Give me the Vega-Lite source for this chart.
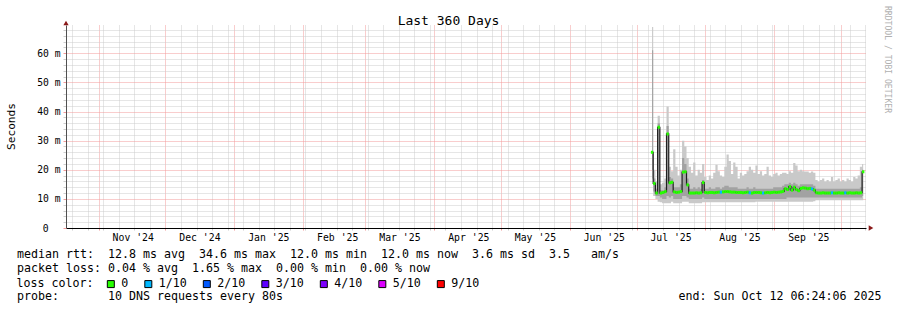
{
  "$schema": "https://vega.github.io/schema/vega-lite/v6.json",
  "width": 800,
  "height": 203,
  "autosize": "none",
  "padding": {"left": 66, "top": 25, "right": 31, "bottom": 82},
  "background": "white",
  "config": {
    "font": "DejaVu Sans Mono",
    "view": {"stroke": null},
    "axis": {"titleFontWeight": "normal", "titleColor": "#000", "labelColor": "#000", "labelOverlap": false, "labelFlush": false}
  },
  "data": {"values": [
    {"d":"2025-07-08","lo":17,"l2":20,"med":26.0,"h2":61,"hi":69,"loss":"0"},
    {"d":"2025-07-09","lo":11,"l2":12.5,"med":15.3,"h2":17,"hi":20,"loss":"0"},
    {"d":"2025-07-10","lo":10,"l2":11,"med":12.0,"h2":13.5,"hi":16,"loss":"0"},
    {"d":"2025-07-11","lo":9,"l2":11,"med":34.6,"h2":36,"hi":38.5,"loss":"0"},
    {"d":"2025-07-12","lo":8.8,"l2":10.5,"med":12.0,"h2":13,"hi":15,"loss":"0"},
    {"d":"2025-07-13","lo":8.5,"l2":10,"med":12.2,"h2":13,"hi":15.5,"loss":"0"},
    {"d":"2025-07-14","lo":8.5,"l2":10,"med":12.5,"h2":14,"hi":17,"loss":"0"},
    {"d":"2025-07-15","lo":8.5,"l2":11,"med":32.3,"h2":35,"hi":41.7,"loss":"0"},
    {"d":"2025-07-16","lo":8.5,"l2":10.5,"med":15.5,"h2":17.5,"hi":21,"loss":"0"},
    {"d":"2025-07-17","lo":9,"l2":11,"med":15.7,"h2":17,"hi":19.5,"loss":"0"},
    {"d":"2025-07-18","lo":8.5,"l2":10,"med":12.4,"h2":14,"hi":27,"loss":"0"},
    {"d":"2025-07-19","lo":8.5,"l2":10,"med":12.2,"h2":14,"hi":21,"loss":"0"},
    {"d":"2025-07-20","lo":8.5,"l2":10,"med":12.3,"h2":14,"hi":18,"loss":"0"},
    {"d":"2025-07-21","lo":8.5,"l2":10,"med":12.5,"h2":15,"hi":20,"loss":"0"},
    {"d":"2025-07-22","lo":9,"l2":11,"med":19.2,"h2":24,"hi":30,"loss":"0"},
    {"d":"2025-07-23","lo":9,"l2":11,"med":19.3,"h2":22,"hi":28,"loss":"0"},
    {"d":"2025-07-24","lo":9,"l2":10.5,"med":14.8,"h2":17,"hi":24,"loss":"0"},
    {"d":"2025-07-25","lo":8.5,"l2":10,"med":12.0,"h2":13.5,"hi":21,"loss":"0"},
    {"d":"2025-07-26","lo":8.5,"l2":10,"med":12.0,"h2":13.5,"hi":19,"loss":"0"},
    {"d":"2025-07-27","lo":8.5,"l2":10,"med":12.0,"h2":14,"hi":22.5,"loss":"0"},
    {"d":"2025-07-28","lo":8.5,"l2":10,"med":12.1,"h2":13.5,"hi":18,"loss":"0"},
    {"d":"2025-07-29","lo":8.5,"l2":10,"med":12.0,"h2":14,"hi":20,"loss":"0"},
    {"d":"2025-07-30","lo":8.5,"l2":10,"med":12.1,"h2":13.5,"hi":19,"loss":"0"},
    {"d":"2025-07-31","lo":8.8,"l2":10.5,"med":15.6,"h2":16.5,"hi":22,"loss":"0"},
    {"d":"2025-08-01","lo":8.8,"l2":10,"med":12.2,"h2":13.5,"hi":17.5,"loss":"0"},
    {"d":"2025-08-02","lo":8.8,"l2":10,"med":12.1,"h2":13.5,"hi":16.5,"loss":"0"},
    {"d":"2025-08-03","lo":8.8,"l2":10,"med":12.2,"h2":14,"hi":18,"loss":"0"},
    {"d":"2025-08-04","lo":8.8,"l2":10,"med":12.2,"h2":13.5,"hi":17,"loss":"0"},
    {"d":"2025-08-05","lo":8.8,"l2":10,"med":12.1,"h2":13.5,"hi":19,"loss":"0"},
    {"d":"2025-08-06","lo":8.8,"l2":10,"med":12.2,"h2":14,"hi":21.7,"loss":"0"},
    {"d":"2025-08-07","lo":8.8,"l2":10,"med":12.3,"h2":14,"hi":19.5,"loss":"0"},
    {"d":"2025-08-08","lo":8.8,"l2":10,"med":12.3,"h2":13.5,"hi":18,"loss":"1/10"},
    {"d":"2025-08-09","lo":8.8,"l2":10,"med":12.4,"h2":14,"hi":17.5,"loss":"0"},
    {"d":"2025-08-10","lo":8.8,"l2":10,"med":12.5,"h2":14.5,"hi":21,"loss":"0"},
    {"d":"2025-08-11","lo":8.8,"l2":10,"med":12.5,"h2":14.5,"hi":25.2,"loss":"0"},
    {"d":"2025-08-12","lo":8.8,"l2":10,"med":12.4,"h2":14,"hi":23,"loss":"0"},
    {"d":"2025-08-13","lo":8.8,"l2":10,"med":12.3,"h2":14,"hi":18.5,"loss":"0"},
    {"d":"2025-08-14","lo":8.8,"l2":10,"med":12.3,"h2":14,"hi":22.5,"loss":"0"},
    {"d":"2025-08-15","lo":8.8,"l2":10,"med":12.2,"h2":14,"hi":21,"loss":"0"},
    {"d":"2025-08-16","lo":8.8,"l2":10,"med":12.2,"h2":13.5,"hi":17,"loss":"0"},
    {"d":"2025-08-17","lo":8.8,"l2":10,"med":12.2,"h2":13.5,"hi":19,"loss":"0"},
    {"d":"2025-08-18","lo":8.8,"l2":10,"med":12.1,"h2":13.5,"hi":18,"loss":"0"},
    {"d":"2025-08-19","lo":8.8,"l2":10,"med":12.2,"h2":13.5,"hi":18.5,"loss":"0"},
    {"d":"2025-08-20","lo":8.8,"l2":10,"med":12.3,"h2":14,"hi":19.5,"loss":"0"},
    {"d":"2025-08-21","lo":8.8,"l2":10,"med":12.1,"h2":13.5,"hi":21,"loss":"1/10"},
    {"d":"2025-08-22","lo":8.8,"l2":10,"med":12.0,"h2":13.5,"hi":20,"loss":"0"},
    {"d":"2025-08-23","lo":8.8,"l2":10,"med":12.2,"h2":14,"hi":19,"loss":"0"},
    {"d":"2025-08-24","lo":9,"l2":10,"med":12.2,"h2":13.5,"hi":21.5,"loss":"0"},
    {"d":"2025-08-25","lo":9,"l2":10,"med":12.2,"h2":13.5,"hi":18.5,"loss":"0"},
    {"d":"2025-08-26","lo":9,"l2":10,"med":12.1,"h2":13.5,"hi":19.5,"loss":"0"},
    {"d":"2025-08-27","lo":9,"l2":10,"med":12.0,"h2":13.5,"hi":18,"loss":"1/10"},
    {"d":"2025-08-28","lo":9,"l2":10,"med":12.1,"h2":13.5,"hi":18.5,"loss":"0"},
    {"d":"2025-08-29","lo":9,"l2":10,"med":12.2,"h2":13.5,"hi":21,"loss":"0"},
    {"d":"2025-08-30","lo":9,"l2":10,"med":12.1,"h2":13.5,"hi":18,"loss":"0"},
    {"d":"2025-08-31","lo":9,"l2":10,"med":12.2,"h2":13.5,"hi":17.5,"loss":"0"},
    {"d":"2025-09-01","lo":9,"l2":10,"med":12.3,"h2":14,"hi":18.5,"loss":"0"},
    {"d":"2025-09-02","lo":9,"l2":10,"med":12.2,"h2":14,"hi":19,"loss":"0"},
    {"d":"2025-09-03","lo":9,"l2":10,"med":12.3,"h2":14,"hi":18,"loss":"0"},
    {"d":"2025-09-04","lo":9,"l2":10,"med":12.4,"h2":14,"hi":18.5,"loss":"0"},
    {"d":"2025-09-05","lo":9,"l2":10,"med":12.6,"h2":14.5,"hi":19,"loss":"0"},
    {"d":"2025-09-06","lo":9,"l2":10,"med":13.5,"h2":15,"hi":19,"loss":"0"},
    {"d":"2025-09-07","lo":9,"l2":10.5,"med":13.2,"h2":15,"hi":18.5,"loss":"0"},
    {"d":"2025-09-08","lo":9,"l2":10.5,"med":14.2,"h2":15.5,"hi":19.5,"loss":"0"},
    {"d":"2025-09-09","lo":9,"l2":10.5,"med":13.0,"h2":15,"hi":19,"loss":"0"},
    {"d":"2025-09-10","lo":9,"l2":10.5,"med":14.0,"h2":15.5,"hi":22.3,"loss":"0"},
    {"d":"2025-09-11","lo":9,"l2":10.5,"med":13.2,"h2":15,"hi":21.5,"loss":"0"},
    {"d":"2025-09-12","lo":9,"l2":10.5,"med":12.8,"h2":14.5,"hi":19.5,"loss":"0"},
    {"d":"2025-09-13","lo":9,"l2":10.5,"med":13.6,"h2":15,"hi":20,"loss":"0"},
    {"d":"2025-09-14","lo":9,"l2":10.5,"med":13.8,"h2":15,"hi":19.5,"loss":"0"},
    {"d":"2025-09-15","lo":9,"l2":10.5,"med":13.7,"h2":15,"hi":19.4,"loss":"0"},
    {"d":"2025-09-16","lo":9,"l2":10.5,"med":13.5,"h2":15,"hi":19.4,"loss":"0"},
    {"d":"2025-09-17","lo":9,"l2":10.5,"med":13.6,"h2":15,"hi":19,"loss":"0"},
    {"d":"2025-09-18","lo":9,"l2":10.5,"med":13.4,"h2":15,"hi":19.4,"loss":"1/10"},
    {"d":"2025-09-19","lo":9.2,"l2":10.5,"med":13.0,"h2":14.5,"hi":19,"loss":"0"},
    {"d":"2025-09-20","lo":9.5,"l2":10.5,"med":12.1,"h2":13.5,"hi":16.5,"loss":"0"},
    {"d":"2025-09-21","lo":9.5,"l2":10.5,"med":12.0,"h2":13.5,"hi":16,"loss":"0"},
    {"d":"2025-09-22","lo":9.5,"l2":10.5,"med":12.0,"h2":13.5,"hi":16.5,"loss":"0"},
    {"d":"2025-09-23","lo":9.5,"l2":10.5,"med":12.1,"h2":13.5,"hi":17,"loss":"0"},
    {"d":"2025-09-24","lo":9.5,"l2":10.5,"med":12.0,"h2":13.5,"hi":16,"loss":"0"},
    {"d":"2025-09-25","lo":9.5,"l2":10.5,"med":12.0,"h2":13.5,"hi":16.5,"loss":"0"},
    {"d":"2025-09-26","lo":9.5,"l2":10.5,"med":12.0,"h2":13.5,"hi":16,"loss":"0"},
    {"d":"2025-09-27","lo":9.5,"l2":10.5,"med":12.1,"h2":13.5,"hi":17.5,"loss":"1/10"},
    {"d":"2025-09-28","lo":9.5,"l2":10.5,"med":12.0,"h2":13.5,"hi":16,"loss":"0"},
    {"d":"2025-09-29","lo":9.5,"l2":10.5,"med":12.0,"h2":13.5,"hi":16.5,"loss":"0"},
    {"d":"2025-09-30","lo":9.5,"l2":10.5,"med":12.1,"h2":13.5,"hi":17,"loss":"0"},
    {"d":"2025-10-01","lo":9.5,"l2":10.5,"med":12.0,"h2":13.5,"hi":16,"loss":"0"},
    {"d":"2025-10-02","lo":9.5,"l2":10.5,"med":12.0,"h2":13.5,"hi":16.5,"loss":"0"},
    {"d":"2025-10-03","lo":9.5,"l2":10.5,"med":12.1,"h2":13.5,"hi":16,"loss":"1/10"},
    {"d":"2025-10-04","lo":9.5,"l2":10.5,"med":12.0,"h2":13.5,"hi":17,"loss":"0"},
    {"d":"2025-10-05","lo":9.5,"l2":10.5,"med":12.1,"h2":13.5,"hi":16.5,"loss":"0"},
    {"d":"2025-10-06","lo":9.5,"l2":10.5,"med":12.0,"h2":13.5,"hi":16,"loss":"0"},
    {"d":"2025-10-07","lo":9.5,"l2":10.5,"med":12.0,"h2":13.5,"hi":17.5,"loss":"0"},
    {"d":"2025-10-08","lo":9.5,"l2":10.5,"med":12.1,"h2":13.5,"hi":17,"loss":"0"},
    {"d":"2025-10-09","lo":9.5,"l2":10.5,"med":12.0,"h2":13.5,"hi":18,"loss":"0"},
    {"d":"2025-10-10","lo":9.5,"l2":10.5,"med":12.1,"h2":14,"hi":21,"loss":"0"},
    {"d":"2025-10-11","lo":9.5,"l2":11,"med":19.3,"h2":20,"hi":22,"loss":"0"}
  ]},
  "layer": [
    {
      "encoding": {
        "x": {
          "field": "d", "type": "temporal",
          "scale": {"type": "utc", "domain": [
            {"year": 2024, "month": 10, "date": 17, "hours": 6, "minutes": 24, "seconds": 6, "utc": true},
            {"year": 2025, "month": 10, "date": 12, "hours": 6, "minutes": 24, "seconds": 6, "utc": true}
          ]},
          "axis": {
            "orient": "bottom",
            "tickCount": 500,
            "values": [
              {"year":2024,"month":10,"date":20,"utc":true},{"year":2024,"month":10,"date":27,"utc":true},
              {"year":2024,"month":11,"date":3,"utc":true},{"year":2024,"month":11,"date":10,"utc":true},{"year":2024,"month":11,"date":17,"utc":true},{"year":2024,"month":11,"date":24,"utc":true},
              {"year":2024,"month":12,"date":8,"utc":true},{"year":2024,"month":12,"date":15,"utc":true},{"year":2024,"month":12,"date":22,"utc":true},{"year":2024,"month":12,"date":29,"utc":true},
              {"year":2025,"month":1,"date":5,"utc":true},{"year":2025,"month":1,"date":12,"utc":true},{"year":2025,"month":1,"date":19,"utc":true},{"year":2025,"month":1,"date":26,"utc":true},
              {"year":2025,"month":2,"date":2,"utc":true},{"year":2025,"month":2,"date":9,"utc":true},{"year":2025,"month":2,"date":16,"utc":true},{"year":2025,"month":2,"date":23,"utc":true},
              {"year":2025,"month":3,"date":2,"utc":true},{"year":2025,"month":3,"date":9,"utc":true},{"year":2025,"month":3,"date":16,"utc":true},{"year":2025,"month":3,"date":23,"utc":true},{"year":2025,"month":3,"date":30,"utc":true},
              {"year":2025,"month":4,"date":6,"utc":true},{"year":2025,"month":4,"date":13,"utc":true},{"year":2025,"month":4,"date":20,"utc":true},{"year":2025,"month":4,"date":27,"utc":true},
              {"year":2025,"month":5,"date":4,"utc":true},{"year":2025,"month":5,"date":11,"utc":true},{"year":2025,"month":5,"date":18,"utc":true},{"year":2025,"month":5,"date":25,"utc":true},
              {"year":2025,"month":6,"date":8,"utc":true},{"year":2025,"month":6,"date":15,"utc":true},{"year":2025,"month":6,"date":22,"utc":true},{"year":2025,"month":6,"date":29,"utc":true},
              {"year":2025,"month":7,"date":6,"utc":true},{"year":2025,"month":7,"date":13,"utc":true},{"year":2025,"month":7,"date":20,"utc":true},{"year":2025,"month":7,"date":27,"utc":true},
              {"year":2025,"month":8,"date":3,"utc":true},{"year":2025,"month":8,"date":10,"utc":true},{"year":2025,"month":8,"date":17,"utc":true},{"year":2025,"month":8,"date":24,"utc":true},{"year":2025,"month":8,"date":31,"utc":true},
              {"year":2025,"month":9,"date":7,"utc":true},{"year":2025,"month":9,"date":14,"utc":true},{"year":2025,"month":9,"date":21,"utc":true},{"year":2025,"month":9,"date":28,"utc":true},
              {"year":2025,"month":10,"date":5,"utc":true},{"year":2025,"month":10,"date":12,"utc":true},
              {"year":2024,"month":11,"date":1,"utc":true},{"year":2024,"month":12,"date":1,"utc":true},
              {"year":2025,"month":1,"date":1,"utc":true},{"year":2025,"month":2,"date":1,"utc":true},{"year":2025,"month":3,"date":1,"utc":true},
              {"year":2025,"month":4,"date":1,"utc":true},{"year":2025,"month":5,"date":1,"utc":true},{"year":2025,"month":6,"date":1,"utc":true},
              {"year":2025,"month":7,"date":1,"utc":true},{"year":2025,"month":8,"date":1,"utc":true},{"year":2025,"month":9,"date":1,"utc":true},{"year":2025,"month":10,"date":1,"utc":true}
            ],
            "grid": true,
            "gridColor": {"condition": {"test": "utcdate(datum.value) == 1", "value": "#f29a9a"}, "value": "#cdcdcd"},
            "gridDash": [1, 1],
            "gridWidth": 1,
            "ticks": true,
            "tickSize": 2,
            "tickColor": {"condition": {"test": "utcdate(datum.value) == 1", "value": "#f29a9a"}, "value": "#cdcdcd"},
            "domainColor": "#000",
            "domainWidth": 1,
            "labelExpr": "utcdate(datum.value) == 1 && utcmonth(datum.value) != 9 ? utcFormat(datum.value, \"%b '%y\") : ''",
            "labelOffset": 34,
            "labelPadding": 2,
            "labelFontSize": 9.8,
            "labelAlign": "center",
            "title": [
              "median\u00a0rtt:\u00a0\u00a012.8\u00a0ms\u00a0avg\u00a0\u00a034.6\u00a0ms\u00a0max\u00a0\u00a012.0\u00a0ms\u00a0min\u00a0\u00a012.0\u00a0ms\u00a0now\u00a0\u00a03.6\u00a0ms\u00a0sd\u00a0\u00a03.5\u00a0\u00a0\u00a0am/s",
              "packet\u00a0loss:\u00a00.04\u00a0%\u00a0avg\u00a0\u00a01.65\u00a0%\u00a0max\u00a0\u00a00.00\u00a0%\u00a0min\u00a0\u00a00.00\u00a0%\u00a0now"
            ],
            "titleX": -49.5,
            "titleY": 29.5,
            "titleAlign": "left",
            "titleAnchor": "start",
            "titleBaseline": "alphabetic",
            "titleFontSize": 11.63,
            "titleLineHeight": 14
          }
        }
      },
      "layer": [
        {
          "mark": {"type": "area", "interpolate": "step", "color": "#c9c9c9", "clip": true},
          "encoding": {
            "y": {"field": "lo", "type": "quantitative",
              "scale": {"domain": [0, 69.7], "nice": false, "zero": false},
              "axis": {
                "orient": "left",
                "tickCount": 500,
                "values": [0,2,4,6,8,10,12,14,16,18,20,22,24,26,28,30,32,34,36,38,40,42,44,46,48,50,52,54,56,58,60,62,64,66,68],
                "grid": true,
                "gridColor": {"condition": {"test": "datum.value % 10 == 0", "value": "#f29a9a"}, "value": "#cdcdcd"},
                "gridDash": [1, 1],
                "ticks": true,
                "tickSize": 3,
                "tickColor": {"condition": {"test": "datum.value % 10 == 0", "value": "#f29a9a"}, "value": "#cdcdcd"},
                "domainColor": "#505050",
                "labelExpr": "datum.value % 10 == 0 ? (datum.value == 0 ? '0' : datum.value + ' m') : ''",
                "labelFontSize": 9.7,
                "labelPadding": {"condition": {"test": "datum.value == 0", "value": 15}, "value": 3},
                "labelBaseline": "middle",
                "title": "Seconds",
                "titleX": -55,
                "titleY": 101,
                "titleAngle": -90,
                "titleAlign": "center",
                "titleBaseline": "middle",
                "titleFontSize": 11.1
              }
            },
            "y2": {"field": "hi"}
          }
        },
        {
          "mark": {"type": "area", "interpolate": "step", "color": "#a2a2a2", "clip": true},
          "encoding": {
            "y": {"field": "l2", "type": "quantitative"},
            "y2": {"field": "h2"}
          }
        },
        {
          "mark": {"type": "line", "interpolate": "step", "color": "#202020", "strokeWidth": 1.2, "clip": true},
          "encoding": {
            "y": {"field": "med", "type": "quantitative"}
          }
        },
        {
          "mark": {"type": "tick", "orient": "horizontal", "thickness": 3, "size": 2.4, "opacity": 1, "clip": true},
          "encoding": {
            "y": {"field": "med", "type": "quantitative"},
            "color": {
              "field": "loss", "type": "nominal",
              "scale": {
                "domain": ["0", "1/10", "2/10", "3/10", "4/10", "5/10", "9/10"],
                "range": ["#26ff00", "#00b8ff", "#0059ff", "#5e00ff", "#7e00ff", "#dd00ff", "#ff0000"]
              },
              "legend": {
                "title": "loss color:",
                "orient": "none",
                "legendX": -49.5,
                "legendY": 253,
                "direction": "horizontal",
                "columns": 7,
                "titleOrient": "left",
                "titleFontSize": 11.63,
                "titleFontWeight": "normal",
                "titleColor": "#000",
                "titlePadding": 11.5,
                "titleBaseline": "middle",
                "labelFontSize": 11.63,
                "labelColor": "#000",
                "labelOffset": 4.5,
                "symbolType": "square",
                "symbolSize": 49,
                "symbolStrokeColor": "#000",
                "symbolStrokeWidth": 1,
                "symbolOpacity": 1,
                "columnPadding": 13.5,
                "padding": 0
              }
            }
          }
        }
      ]
    },
    {
      "data": {"values": [{}]},
      "mark": {"type": "point", "shape": "triangle-up", "filled": true, "color": "#8b1a1a", "size": 28, "opacity": 1, "yOffset": -2},
      "encoding": {
        "x": {
          "datum": {"year": 2024, "month": 10, "date": 17, "hours": 6, "minutes": 24, "seconds": 6, "utc": true},
          "type": "temporal",
          "axis": {
            "orient": "bottom", "labels": false, "ticks": false, "domain": false, "grid": false,
            "title": "probe:\u00a0\u00a0\u00a0\u00a0\u00a0\u00a0\u00a010\u00a0DNS\u00a0requests\u00a0every\u00a080s",
            "titleX": -49.5, "titleY": 71.5,
            "titleAlign": "left", "titleBaseline": "alphabetic",
            "titleFontSize": 11.63
          }
        },
        "y": {
          "datum": 69.7,
          "type": "quantitative",
          "axis": {
            "orient": "right", "labels": false, "ticks": false, "domain": false, "grid": false,
            "title": "RRDTOOL / TOBI OETIKER",
            "titleAngle": 90,
            "titleX": 20, "titleY": 34,
            "titleAlign": "center", "titleBaseline": "middle",
            "titleFontSize": 8.1,
            "titleColor": "#b0b0b0"
          }
        }
      }
    },
    {
      "data": {"values": [{}]},
      "mark": {"type": "point", "shape": "triangle-right", "filled": true, "color": "#8b1a1a", "size": 28, "opacity": 1, "xOffset": 5},
      "encoding": {
        "x": {
          "datum": {"year": 2025, "month": 10, "date": 12, "hours": 6, "minutes": 24, "seconds": 6, "utc": true},
          "type": "temporal",
          "axis": {
            "orient": "bottom", "labels": false, "ticks": false, "domain": false, "grid": false,
            "title": "end:\u00a0Sun\u00a0Oct\u00a012\u00a006:24:06\u00a02025",
            "titleX": 815, "titleY": 71.5,
            "titleAlign": "right", "titleBaseline": "alphabetic",
            "titleFontSize": 11.63
          }
        },
        "y": {
          "datum": 0,
          "type": "quantitative",
          "axis": {
            "orient": "left", "labels": false, "ticks": false, "domain": false, "grid": false,
            "title": "Last 360 Days",
            "titleAngle": 0,
            "titleX": 382, "titleY": -0.5,
            "titleAlign": "center", "titleBaseline": "alphabetic",
            "titleFontSize": 13
          }
        }
      }
    }
  ],
  "resolve": {"axis": {"x": "independent", "y": "independent"}}
}
